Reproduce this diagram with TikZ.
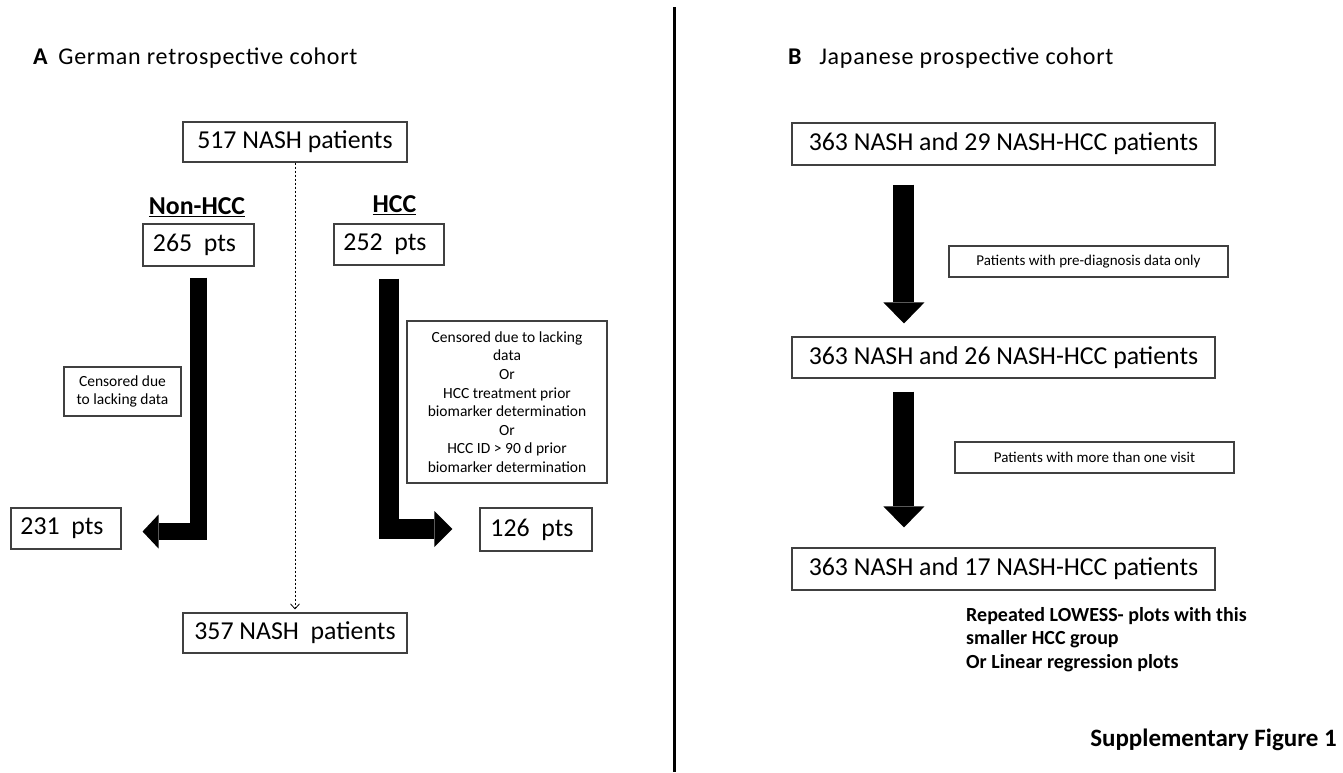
\documentclass[tikz,border=0pt]{standalone}
\usepackage{fontspec}
\setmainfont{Carlito}
\newfontfamily\headfont[LetterSpace=3]{Carlito}
\usetikzlibrary{arrows.meta,calc}
\begin{document}
\begin{tikzpicture}[x=1pt,y=-1pt,
  box/.style={draw=black!75,line width=1.1pt,inner sep=0pt,align=center,font=\fontsize{25.8}{31}\selectfont},
  note/.style={draw=black!75,line width=1.1pt,inner sep=0pt,align=center,font=\fontsize{15.5}{18.6}\selectfont},
  smallnote/.style={draw=black!75,line width=1.1pt,inner sep=0pt,align=center,font=\fontsize{15}{18}\selectfont},
  head/.style={inner sep=0pt,anchor=base west,font=\headfont\fontsize{24}{28}\selectfont},
  grp/.style={inner sep=0pt,font=\fontsize{25.8}{31}\selectfont\bfseries},
  leftblock/.style={line width=17pt,-{Triangle[length=16pt,width=34pt,line width=0pt]}},
  rightblock/.style={line width=20pt,-{Triangle[length=18pt,width=36pt,line width=0pt]}},
  downblock/.style={line width=21pt,-{Triangle[length=21pt,width=41pt,line width=0pt]}},
  dasharrow/.style={line width=0.8pt,dash pattern=on 2.5pt off 1.5pt,-{Straight Barb[length=5pt,width=9pt]}}
]
\useasboundingbox (0,0) rectangle (1343,772);

% divider
\coordinate (divtop) at (674.5,7);
\coordinate (divbot) at (674.5,772);
\draw[line width=3pt] (divtop) -- (divbot);

% headings
\node[head] (headA) at (33,64) {\textbf{A}\hspace{10pt}German retrospective cohort};
\node[head] (headB) at (788,64) {\textbf{B}\hspace{17pt}Japanese prospective cohort};

% Panel A
\node[box,minimum width=224pt,minimum height=40pt] (n517) at (295,142) {517 NASH patients};
\node[box,minimum width=224pt,minimum height=40pt] (n357) at (295,633) {357 NASH\ \ patients};
\node[grp] (nonhcc) at (197,207) {\underline{Non-HCC}};
\node[grp] (hcc) at (394.5,205) {\underline{HCC}};
\node[box,minimum width=111pt,minimum height=42pt] (n265) at (198.5,245) {265\ \ pts\hspace{8pt}};
\node[box,minimum width=110pt,minimum height=41pt] (n252) at (389,244.5) {252\ \ pts\hspace{8pt}};
\node[box,minimum width=110pt,minimum height=41pt] (n231) at (66,528.5) {231\ \ pts\hspace{8pt}};
\node[box,minimum width=112pt,minimum height=43pt] (n126) at (536,529.5) {126\ \ pts\hspace{8pt}};
\node[note,minimum width=117pt,minimum height=49pt] (cens1) at (122.5,391.5) {Censored due\\to lacking data};
\node[note,minimum width=200pt,minimum height=162pt] (cens2) at (507,402) {Censored due to lacking\\data\\Or\\HCC treatment prior\\biomarker determination\\Or\\HCC ID > 90 d prior\\biomarker determination};

\draw[dasharrow] (n517.south) -- ($(n357.north)+(0,-3)$);
\draw[leftblock] ($(n265.south)+(0,11)$) |- ($(n231.east)+(21,3)$);
\draw[rightblock] ($(n252.south)+(0,13)$) |- ($(n126.west)+(-27,-0.5)$);

% Panel B
\node[box,minimum width=423pt,minimum height=42pt] (r1) at (1003.5,144) {363 NASH and 29 NASH-HCC patients};
\node[box,minimum width=423pt,minimum height=41pt] (r2) at (1003.5,357.5) {363 NASH and 26 NASH-HCC patients};
\node[box,minimum width=423pt,minimum height=42pt] (r3) at (1003.5,569) {363 NASH and 17 NASH-HCC patients};
\node[smallnote,minimum width=279pt,minimum height=31pt] (lab1) at (1088.5,261.5) {Patients with pre-diagnosis data only};
\node[smallnote,minimum width=279pt,minimum height=31pt] (lab2) at (1094.5,457.5) {Patients with more than one visit};

\draw[downblock] ($(r1.south west)+(112.5,19)$) -- ($(r2.north west)+(112.5,-13)$);
\draw[downblock] ($(r2.south west)+(112.5,13)$) -- ($(r3.north west)+(112.5,-20)$);

\node[inner sep=0pt,anchor=north west,align=left,font=\fontsize{20}{23.5}\selectfont\bfseries] (repeat) at (966,607) {Repeated LOWESS- plots with this\\smaller HCC group\\Or Linear regression plots};

\node[inner sep=0pt,anchor=base east,font=\fontsize{25}{30}\selectfont\bfseries] (supp) at (1337,746) {Supplementary Figure 1};
\end{tikzpicture}
\end{document}
